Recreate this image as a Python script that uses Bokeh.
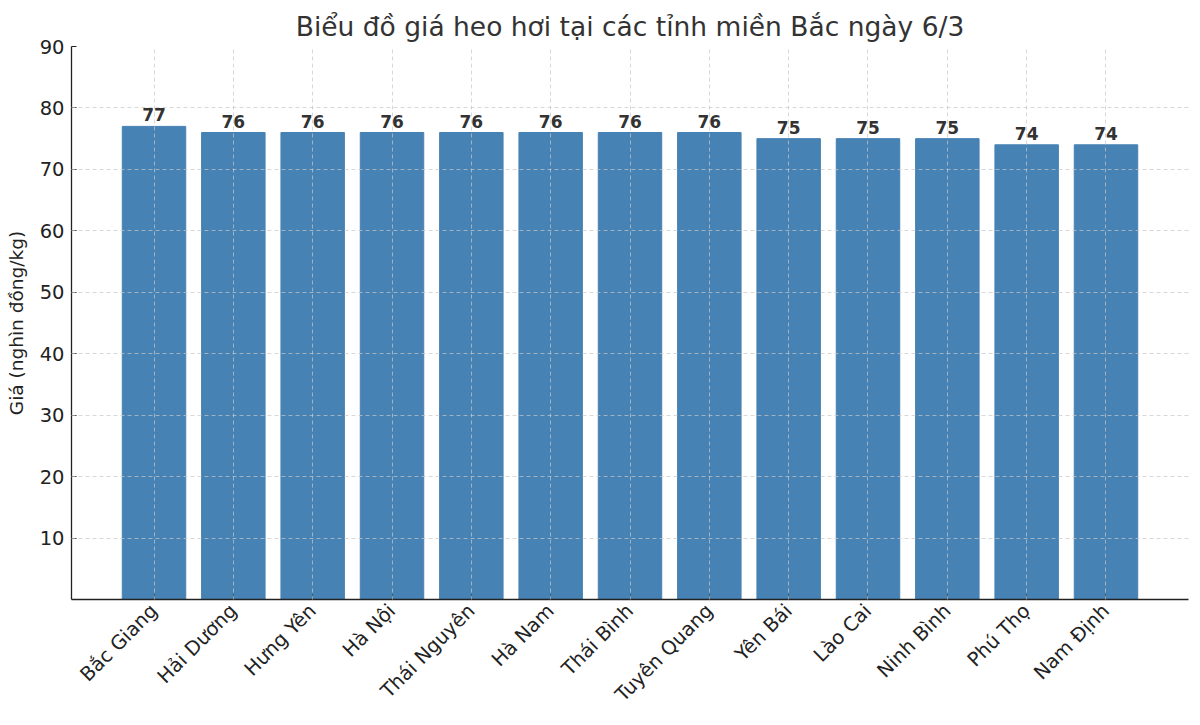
from bokeh.plotting import figure
from bokeh.models import ColumnDataSource, FixedTicker, Range1d, Title
from bokeh.embed import file_html
from bokeh.resources import INLINE
from bokeh.core.properties import value

provinces = ["Bắc Giang", "Hải Dương", "Hưng Yên", "Hà Nội", "Thái Nguyên", "Hà Nam",
             "Thái Bình", "Tuyên Quang", "Yên Bái", "Lào Cai", "Ninh Bình", "Phú Thọ", "Nam Định"]
prices = [77, 76, 76, 76, 76, 76, 76, 76, 75, 75, 75, 74, 74]
y_ticks = [10, 20, 30, 40, 50, 60, 70, 80, 90]
title_text = "Biểu đồ giá heo hơi tại các tỉnh miền Bắc ngày 6/3"
y_label = "Giá (nghìn đồng/kg)"

xs = list(range(len(provinces)))
src = ColumnDataSource(dict(x=xs, y=prices, lbl=[str(v) for v in prices]))

FONT = "DejaVu Sans"

p = figure(width=1190, height=717, output_backend="svg", toolbar_location=None,
           x_range=Range1d(-1.04, len(provinces) - 1 + 1.04), y_range=Range1d(0, 90),
           min_border_left=71, min_border_right=2, min_border_top=46, min_border_bottom=110)
p.title = None
p.add_layout(Title(text=title_text, text_font=FONT, text_font_size="26.5px",
                   text_font_style="normal", text_color="#333333", align="center"), "above")

p.vbar(x="x", top="y", width=0.8, source=src, color="#4682B4", line_color="#4682B4")
p.text(x="x", y="y", text="lbl", source=src, text_align="center", text_baseline="bottom",
       text_font=value(FONT), text_font_size="17px", text_font_style="bold",
       text_color="#333333", y_offset=-5)

p.outline_line_color = None
for ax in (p.xaxis[0], p.yaxis[0]):
    ax.axis_line_color = "#222222"
    ax.axis_line_width = 1.3
    ax.major_tick_in = 5
    ax.major_tick_out = 0
    ax.major_tick_line_color = "#222222"
    ax.minor_tick_line_color = None
    ax.major_label_text_font = FONT
    ax.major_label_text_font_size = "19.5px"
    ax.major_label_text_color = "#222222"

p.xaxis.ticker = FixedTicker(ticks=xs)
p.xaxis.major_label_overrides = {i: n for i, n in enumerate(provinces)}
p.xaxis.major_label_orientation = 0.785398
p.xaxis.major_label_standoff = 8

p.yaxis.ticker = FixedTicker(ticks=y_ticks)
p.yaxis.axis_label = y_label
p.yaxis.axis_label_text_font = FONT
p.yaxis.axis_label_text_font_size = "18.5px"
p.yaxis.axis_label_text_font_style = "normal"
p.yaxis.axis_label_text_color = "#222222"
p.yaxis.axis_label_standoff = 10
p.yaxis.major_label_standoff = 7

for g in (p.xgrid[0], p.ygrid[0]):
    g.grid_line_color = "#c8c8c8"
    g.grid_line_alpha = 0.7
    g.grid_line_dash = "4 3"
    g.level = "overlay"

open("out.html", "w").write(file_html(p, INLINE))
